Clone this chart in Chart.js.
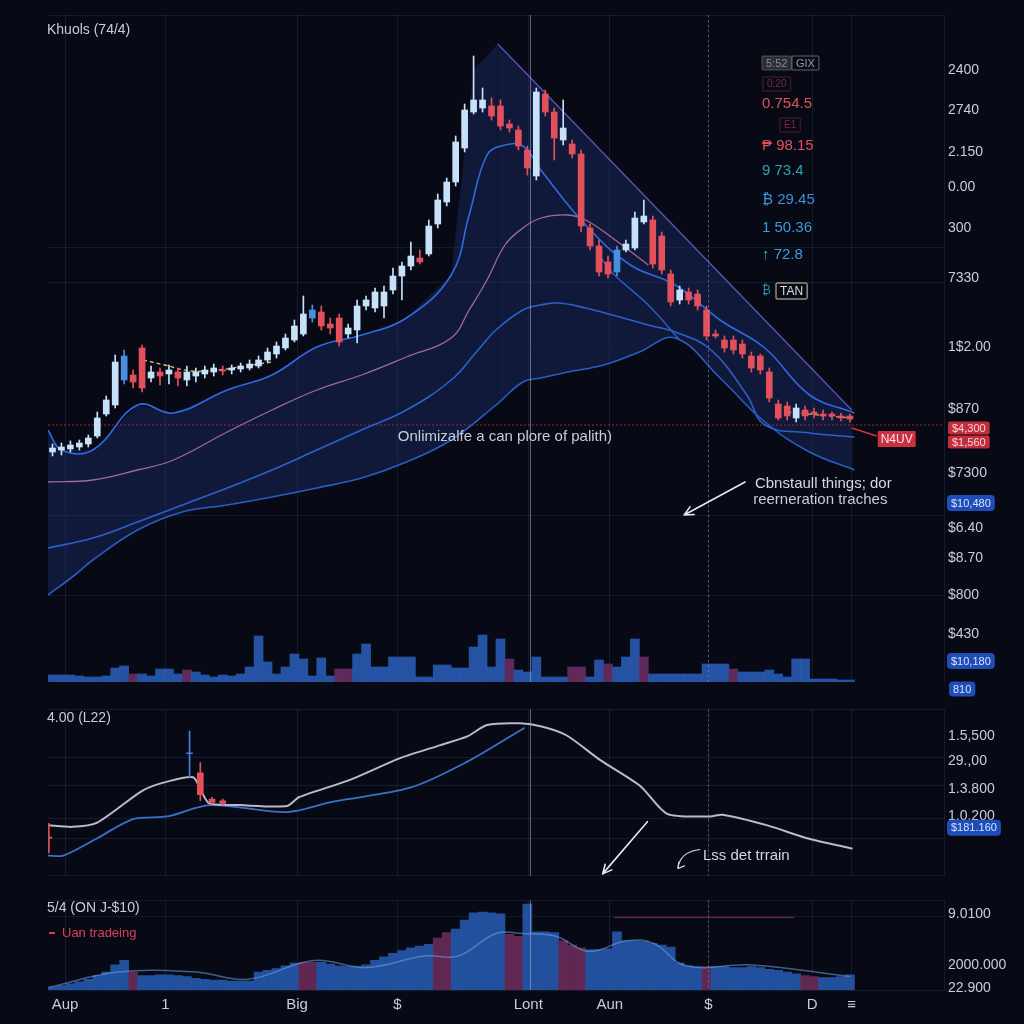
<!DOCTYPE html>
<html><head><meta charset="utf-8">
<script src="https://cdn.jsdelivr.net/npm/chart.js"></script>
<style>
html,body{margin:0;padding:0;background:#070a15;width:1024px;height:1024px;overflow:hidden;}
.panel{position:absolute;left:0;width:1024px;}
</style></head><body>
<div class="panel" style="top:0;height:697px"><canvas id="c1"></canvas></div>
<div class="panel" style="top:697px;height:191px"><canvas id="c2"></canvas></div>
<div class="panel" style="top:888px;height:136px"><canvas id="c3"></canvas></div>
<script>
// ---------- DATA ----------
const xTickPos = [1.9, 13.1, 27.8, 39.0, 53.6, 62.7, 73.7, 85.3, 89.7, 100];
const xTickLabels = ['Aup','1','Big','$','Lont','Aun','$','D','≡',''];

const mainTickValues = [612,572,530,495,454,404,335,273,209,154,124,87,48];
const mainTickLabels = ['2400','2740','2.150','0.00','300','7330','1$2.00','$870','$7300','$6.40','$8.70','$800','$430'];
const midTickValues = [160,132,99,68];
const midTickLabels = ['1.5,500','29.,00','1.3.800','1.0.200'];
const lowTickValues = [85,28,2];
const lowTickLabels = ['9.0100','2000.000','22.900'];

const candleOpen = [230,232,233,235,238,246,268,277,302,307, 334,304,310,308,310,302,306,308,310,312, 312,313,314,316,322,328,334,342,348,364, 370,358,364,348,352,376,374,376,392,406, 416,424,428,458,480,500,534,570,574,576, 576,558,552,532,506,588,570,542,538,528, 454,436,420,410,432,434,460,462,446,408, 382,390,388,372,348,342,342,338,326,326, 310,278,276,264,272,270,268,268,266,266];
const candleClose = [234,235,237,239,244,264,282,320,326,300, 294,310,306,312,304,310,310,312,314,311, 314,316,318,322,330,336,344,356,368,372, 356,354,340,354,376,382,390,390,406,416, 426,420,456,482,500,540,572,582,582,566, 556,554,536,514,590,570,544,554,528,456, 436,410,408,432,438,464,466,418,412,380, 392,382,376,346,346,334,332,328,314,312, 284,264,266,274,266,268,266,266,264,263];
const candleHigh = [238,239,241,242,247,270,286,327,332,312, 337,316,314,317,314,316,314,316,318,316, 317,319,322,326,334,340,348,362,386,377, 376,364,368,358,382,386,394,396,414,420, 440,432,462,488,504,546,578,626,594,584, 582,562,556,536,594,592,574,582,542,532, 458,442,426,436,442,470,482,466,450,412, 396,394,392,376,352,346,346,342,330,328, 314,282,280,278,276,274,272,270,269,268];
const candleLow = [226,227,230,232,235,244,266,274,298,294, 290,300,297,298,296,296,300,304,306,307, 308,310,312,314,320,324,332,340,346,360, 352,348,336,344,339,372,370,364,388,382, 412,418,426,454,476,496,530,568,570,562, 552,550,532,507,502,566,522,537,524,450, 432,406,404,406,430,432,458,414,408,376, 378,378,372,342,344,330,328,324,310,308, 280,262,262,260,262,264,262,262,261,260];
const blueCandles = [8, 29, 63];

const mainVolume = [7,7,7,6,5,5,6,14,16,8, 8,6,13,13,8,12,10,7,5,7, 6,8,15,46,20,8,15,28,23,6, 24,6,13,13,28,38,15,15,25,25, 25,5,5,17,17,14,14,35,47,15, 43,23,12,10,25,5,5,5,15,15, 5,22,18,15,25,43,25,8,8,8, 8,8,8,18,18,18,13,10,10,10, 12,8,5,23,23,3,3,3,2,2];
const mainVolSell = [9,15,32,33,51,58,59,62,66,76];

const bandAX = [0,1.5,5,10,14,20,25,30,35,40,45,47,49,51,53,55,60,65,70,75,80,85,90];
const bandA  = [252,232,232,277,269,292,307,335,347,364,407,467,527,537,536,512,457,417,397,362,334,287,269];
const bandBX = [0,5,10,14,20,25,30,35,40,45,47,49,51,53,55,58,60,63,67];
const bandB  = [200,202,212,222,250,272,292,307,325,344,372,402,437,454,464,467,462,444,417];
const bandCX = [0,5,10,15,20,25,30,35,40,45,48,50,53,55,57,60,63,67,70,74,78,80,85,90];
const bandC  = [134,144,160,177,194,212,232,252,272,302,332,352,372,377,379,374,367,357,350,332,287,257,249,245];
const bandDX = [0,3,5,10,15,20,25,30,35,40,45,50,53,55,58,62,66,70,75,80,85,90];
const bandD  = [87,107,122,152,170,177,185,194,204,220,242,277,300,304,310,317,330,344,304,260,230,212];
const bandEX = [61.5,63,67,70.5];
const bandE  = [427,409,377,342];
const envelopeX = [0,1.5,5,10,14,20,25,30,35,40,45,47.5,50.2,89.7];
const envelope  = [252,232,232,277,269,292,307,335,347,364,407,612,638,272];
const maFastX = [10.6,13,16,19,22,25];
const maFast  = [322,317,311,312,316,320];
const maTailX = [82.5,86,89.7];
const maTail  = [270,267,264];
const priceLevel = 257;

const midWhiteX = [0,2.7,5.5,10.6,13.3,16.2,17.2,18,21.4,26.7,28,33.7,39.3,43.8,46.8,49,52.7,55.2,57.9,61.6,66.1,69.1,73.9,75.3,80.2,84.7,89.8];
const midWhite  = [58,56,61,98,108,113,95,83,81,80,90,110,135,150,160,173,175,171,161,133,103,71,68,70,58,43,31];
const midBlueX = [0,1.7,5.5,9.5,13.3,18.1,26.7,31.8,40.4,46.8,53.2];
const midBlue  = [23,23,43,65,68,81,73,85,101,131,170];
const midCandleX = [0.1,15.8,17.0,18.3,19.5];
const midOpen  = [43,140,118,88,86];
const midClose = [43,140,93,84,83];
const midHigh  = [60,166,130,90,88];
const midLow   = [26,113,86,82,81];

const lowerVolume = [3,5,7,9,12,16,20,28,33,20, 16,16,17,17,16,15,13,12,11,11, 10,10,10,20,22,24,27,30,31,31, 31,29,27,26,26,28,33,37,41,44, 47,49,51,58,64,68,78,86,87,86, 85,62,60,96,65,65,64,55,50,47, 45,45,46,65,55,55,54,52,50,48, 30,27,26,26,26,26,25,25,26,25, 23,22,20,18,16,15,14,14,15,17];
const lowerSell = [9,28,29,43,44,51,52,57,58,59,73,84,85];
const lowerAvgX = [0.1,7.8,16.5,22.3,29.7,35.5,42,45.8,50,53,56.7,60.3,64.6,67.6,71.2,78.6,89.5];
const lowerAvg  = [3,20,20,12,33,25,38,38,63,63,60,43,55,52,27,28,15];
const lowerLevelX = [63.2,83.3];
const lowerLevel = [81,81];

const crosshairX = [53.8, 73.7];

// ---------- HELPERS ----------
const FONT = '"Liberation Sans", Arial, Helvetica, sans-serif';
const GRID = 'rgba(70,92,140,0.22)';
const TXT = '#c9cdd8';
const pts = (xs, ys) => xs.map((x,i)=>({x, y:ys[i]}));
const candleX = candleOpen.map((_,i)=>i+0.5);
const isUp = i => candleClose[i] >= candleOpen[i];
const candleColor = i => isUp(i) ? (blueCandles.includes(i) ? '#4a8ee0' : '#c6e1f8') : '#e2505c';

function xAxis(show){
  return { type:'linear', min:0, max:100, position:'bottom', offset:false,
    afterBuildTicks: s => { s.ticks = xTickPos.map(v=>({value:v})); },
    ticks:{ display:show, autoSkip:false, maxRotation:0, padding:6, color:TXT, font:{family:FONT,size:15}, callback:(v,i)=>xTickLabels[i] },
    grid:{ color:GRID, drawTicks:false, offset:false }, border:{display:false},
    afterFit: s => { s.height = show ? 34 : 0; } };
}
function yRight(min,max,vals,labels){
  return { type:'linear', position:'right', min, max,
    afterBuildTicks: s => { s.ticks = vals.map(v=>({value:v})); },
    ticks:{ autoSkip:false, padding:4, color:TXT, font:{family:FONT,size:14}, crossAlign:'near', callback:(v,i)=>labels[i] },
    grid:{ display:false, drawTicks:false }, border:{display:false},
    afterFit: s => { s.width = 80; } };
}
function yGrid(min,max,vals){
  return { type:'linear', position:'left', min, max,
    afterBuildTicks: s => { s.ticks = vals.map(v=>({value:v})); },
    ticks:{ display:false }, grid:{ color:GRID, drawTicks:false }, border:{display:false},
    afterFit: s => { s.width = 0; } };
}
function txt(ctx, s, x, y, o={}){
  ctx.save();
  ctx.font = `${o.weight||'normal'} ${o.size||14}px ${FONT}`;
  ctx.fillStyle = o.color||TXT; ctx.textAlign = o.align||'left'; ctx.textBaseline='middle';
  ctx.fillText(s,x,y); ctx.restore();
}
function box(ctx, s, x, y, o={}){
  ctx.save();
  ctx.font = `${o.weight||'normal'} ${o.size||11}px ${FONT}`;
  const w = ctx.measureText(s).width + (o.pad||8), h = o.h||14;
  ctx.beginPath(); ctx.roundRect(x, y-h/2, w, h, o.r==null?3:o.r);
  if (o.bg){ ctx.fillStyle=o.bg; ctx.fill(); }
  if (o.border){ ctx.strokeStyle=o.border; ctx.lineWidth=1; ctx.stroke(); }
  ctx.fillStyle=o.color||'#fff'; ctx.textAlign='center'; ctx.textBaseline='middle';
  ctx.fillText(s, x+w/2, y+0.5); ctx.restore();
}
function arrow(ctx,x1,y1,x2,y2,color,w){
  ctx.save(); ctx.strokeStyle=color; ctx.lineWidth=w; ctx.lineCap='round';
  ctx.beginPath(); ctx.moveTo(x1,y1); ctx.lineTo(x2,y2);
  const a=Math.atan2(y2-y1,x2-x1), L=10;
  ctx.moveTo(x2,y2); ctx.lineTo(x2-L*Math.cos(a-0.45), y2-L*Math.sin(a-0.45));
  ctx.moveTo(x2,y2); ctx.lineTo(x2-L*Math.cos(a+0.45), y2-L*Math.sin(a+0.45));
  ctx.stroke(); ctx.restore();
}
const crossPlugin = { id:'cross', afterDatasetsDraw(chart){
  const {ctx, chartArea:a, scales:{x}} = chart;
  crosshairX.forEach((v,k)=>{
    const px = Math.round(x.getPixelForValue(v))+0.5;
    ctx.save(); ctx.strokeStyle = k===0 ? 'rgba(165,175,210,0.55)' : 'rgba(165,175,210,0.45)';
    ctx.setLineDash(k===0?[]:[2,3]); ctx.lineWidth=1;
    ctx.beginPath(); ctx.moveTo(px,a.top); ctx.lineTo(px,a.bottom); ctx.stroke(); ctx.restore();
  });
}};
const base = (padding, scales) => ({
  responsive:true, maintainAspectRatio:false, animation:false,
  layout:{padding}, scales,
  plugins:{legend:{display:false}, tooltip:{enabled:false}}
});

// ---------- CHART 1 (main) ----------
const mainNotesPlugin = { id:'mainNotes', afterDraw(chart){
  const {ctx, scales:{x,y}} = chart;
  const X = v=>x.getPixelForValue(v), Y = v=>y.getPixelForValue(v);
  txt(ctx,'Khuols (74/4)',47,30,{size:14});
  box(ctx,'5:52',762,63,{bg:'rgba(90,90,95,0.45)',border:'rgba(110,110,115,0.6)',color:'#8a8a90',size:11,r:1});
  box(ctx,'GIX',792,63,{border:'rgba(140,140,145,0.7)',color:'#9a9aa0',size:11,r:1});
  box(ctx,'0:20',763,84,{border:'rgba(120,35,50,0.7)',color:'#7a2a38',size:10,r:1});
  txt(ctx,'0.754.5',762,104,{color:'#e0505a',size:15});
  box(ctx,'E1',780,125,{border:'rgba(120,35,50,0.7)',color:'#7a2a38',size:10,r:1});
  txt(ctx,'₱ 98.15',762,146,{color:'#e0505a',size:15});
  txt(ctx,'9 73.4',762,171,{color:'#2ba3b5',size:15});
  txt(ctx,'₿ 29.45',762,200,{color:'#3a90d6',size:15});
  txt(ctx,'1 50.36',762,228,{color:'#3a9ad8',size:15});
  txt(ctx,'↑ 72.8',762,255,{color:'#3aa0d8',size:15});
  txt(ctx,'₿',762,291,{color:'#2b8fa0',size:12});
  box(ctx,'TAN',776,291,{border:'#d8cfa8',color:'#dcdcdc',size:12,h:16,r:1});
  txt(ctx,'Onlimizalfe a can plore of palith)',X(51.0),Y(245),{align:'center',size:15,color:'#c9ccd6'});
  txt(ctx,'Cbnstaull things; dor',X(78.9),Y(198),{size:15,color:'#d6d9e2'});
  txt(ctx,'reerneration traches',X(78.7),Y(182),{size:15,color:'#c9ccd6'});
  arrow(ctx,X(77.8),Y(200),X(71.0),Y(167),'#e6e8ee',1.6);
  ctx.save(); ctx.strokeStyle='#d0303f'; ctx.lineWidth=1.5;
  ctx.beginPath(); ctx.moveTo(X(89.7),Y(254)); ctx.lineTo(X(92.5),Y(246)); ctx.stroke(); ctx.restore();
  box(ctx,'N4UV',X(92.6),Y(243),{bg:'#cc2f3e',color:'#f4e6e8',size:12,h:16,r:1,pad:6});
  box(ctx,'$4,300',948,Y(254),{bg:'#c42d3b',color:'#f3d9dc',size:11,h:13,r:2});
  box(ctx,'$1,560',948,Y(240),{bg:'#c42d3b',color:'#f3d9dc',size:11,h:13,r:2});
  box(ctx,'$10,480',947,Y(179),{bg:'#1f4db8',color:'#d6e2ff',size:11,h:16,r:4});
  box(ctx,'$10,180',947,Y(21),{bg:'#1f4db8',color:'#d6e2ff',size:11,h:16,r:4});
  box(ctx,'810',949,Y(-7),{bg:'#1f4db8',color:'#d6e2ff',size:11,h:15,r:4});
}};

new Chart(document.getElementById('c1'), {
  data:{ datasets:[
    {type:'bar', data:candleX.map((x,i)=>({x,y:[candleOpen[i],candleClose[i]]})), backgroundColor:candleX.map((_,i)=>candleColor(i)), barThickness:6, minBarLength:1, grouped:false, order:0},
    {type:'bar', data:candleX.map((x,i)=>({x,y:[candleLow[i],candleHigh[i]]})), backgroundColor:candleX.map((_,i)=>candleColor(i)), barThickness:1, grouped:false, order:1},
    {type:'line', data:pts(bandAX,bandA), borderColor:'#2f6ae0', borderWidth:1.6, pointRadius:0, tension:0.4, fill:false, order:3},
    {type:'line', data:pts(bandBX,bandB), borderColor:'#a4689a', borderWidth:1.3, pointRadius:0, tension:0.4, fill:false, order:4},
    {type:'line', data:pts(bandCX,bandC), borderColor:'#2c60cc', borderWidth:1.6, pointRadius:0, tension:0.4, fill:false, order:5},
    {type:'line', data:pts(bandDX,bandD), borderColor:'#2a5cc4', borderWidth:1.6, pointRadius:0, tension:0.4, fill:false, order:6},
    {type:'line', data:pts(bandEX,bandE), borderColor:'#2a5cc4', borderWidth:1.5, pointRadius:0, tension:0.4, fill:false, order:6},
    {type:'line', data:pts(maFastX,maFast), borderColor:'#e3c066', borderWidth:1.3, borderDash:[4,3], pointRadius:0, tension:0.4, fill:false, order:2},
    {type:'line', data:pts(maTailX,maTail), borderColor:'#d49a5a', borderWidth:1.3, borderDash:[4,3], pointRadius:0, tension:0.4, fill:false, order:2},
    {type:'line', data:[{x:0,y:priceLevel},{x:100,y:priceLevel}], borderColor:'rgba(200,50,62,0.75)', borderWidth:1, borderDash:[2,2], pointRadius:0, fill:false, order:7},
    {type:'line', data:pts(envelopeX,envelope), pointRadius:0, tension:0, borderWidth:1.3,
      segment:{ borderColor: c => c.p0.parsed.x >= 50 ? 'rgba(110,95,205,0.85)' : 'rgba(0,0,0,0)' },
      fill:{target:5}, backgroundColor:'rgba(28,48,108,0.42)', order:10},
    {type:'bar', yAxisID:'yVol', data:candleX.map((x,i)=>({x,y:mainVolume[i]})), backgroundColor:candleX.map((_,i)=> mainVolSell.includes(i)?'rgba(105,45,98,0.9)':'rgba(42,92,182,0.88)'), barThickness:9, grouped:false, order:12}
  ]},
  options: base({top:15,left:48,right:0,bottom:15}, {
    x: xAxis(false),
    y: yRight(0,667,mainTickValues,mainTickLabels),
    yG: yGrid(0,667,[667,435,400,167,87]),
    yVol: {type:'linear', display:false, min:0, max:667}
  }),
  plugins:[crossPlugin, mainNotesPlugin]
});

// ---------- CHART 2 (middle) ----------
const midNotesPlugin = { id:'midNotes', afterDraw(chart){
  const {ctx, scales:{x,y}} = chart;
  const X = v=>x.getPixelForValue(v), Y = v=>y.getPixelForValue(v);
  txt(ctx,'4.00 (L22)',47,21,{size:14});
  txt(ctx,'Lss det trrain',X(73.1),Y(23),{size:15,color:'#d3d6de'});
  arrow(ctx,X(66.9),Y(62),X(61.9),Y(2),'#e6e8ee',1.6);
  ctx.save(); ctx.strokeStyle='#d0d3dc'; ctx.lineWidth=1.2;
  const x1=X(72.8), y1=Y(30), x2=X(70.3), y2=Y(8);
  ctx.beginPath(); ctx.moveTo(x1,y1); ctx.quadraticCurveTo(x2+2,y1+2,x2,y2); ctx.stroke();
  ctx.beginPath(); ctx.moveTo(x2,y2); ctx.lineTo(x2+1,y2-7); ctx.moveTo(x2,y2); ctx.lineTo(x2+7,y2-3); ctx.stroke();
  ctx.restore();
  box(ctx,'$181.160',947,Y(55),{bg:'#1f4db8',color:'#d6e2ff',size:11,h:16,r:4});
}};
const midColor = i => i===1 ? '#4a7fe0' : '#e2505c';
new Chart(document.getElementById('c2'), {
  data:{ datasets:[
    {type:'bar', data:midCandleX.map((x,i)=>({x,y:[midOpen[i],midClose[i]]})), backgroundColor:midCandleX.map((_,i)=>midColor(i)), barThickness:6, minBarLength:1, grouped:false, order:0},
    {type:'bar', data:midCandleX.map((x,i)=>({x,y:[midLow[i],midHigh[i]]})), backgroundColor:midCandleX.map((_,i)=>midColor(i)), barThickness:1, grouped:false, order:1},
    {type:'line', data:pts(midWhiteX,midWhite), borderColor:'rgba(205,205,225,0.9)', borderWidth:2, pointRadius:0, tension:0.25, fill:false, order:2},
    {type:'line', data:pts(midBlueX,midBlue), borderColor:'#3a70c8', borderWidth:1.8, pointRadius:0, tension:0.3, fill:false, order:3}
  ]},
  options: base({top:0,left:48,right:0,bottom:0}, {
    x: xAxis(false),
    y: yRight(0,191,midTickValues,midTickLabels),
    yG: yGrid(0,191,[191,136,103,66,43,0])
  }),
  plugins:[crossPlugin, midNotesPlugin]
});

// ---------- CHART 3 (bottom volume) ----------
const lowNotesPlugin = { id:'lowNotes', afterDraw(chart){
  const {ctx} = chart;
  txt(ctx,'5/4 (ON J-$10)',47,20,{size:14});
  ctx.save(); ctx.strokeStyle='#d8405a'; ctx.lineWidth=2; ctx.beginPath(); ctx.moveTo(49,45); ctx.lineTo(55,45); ctx.stroke(); ctx.restore();
  txt(ctx,'Uan tradeing',62,45,{size:13,color:'#d8405a'});
}};
new Chart(document.getElementById('c3'), {
  data:{ datasets:[
    {type:'line', data:pts(lowerAvgX,lowerAvg), borderColor:'rgba(110,165,225,0.55)', borderWidth:1.5, pointRadius:0, tension:0.4, fill:false, order:0},
    {type:'line', data:pts(lowerLevelX,lowerLevel), borderColor:'rgba(150,45,75,0.8)', borderWidth:1, pointRadius:0, fill:false, order:1},
    {type:'bar', data:candleX.map((x,i)=>({x,y:lowerVolume[i]})), backgroundColor:candleX.map((_,i)=> lowerSell.includes(i)?'rgba(105,42,88,0.9)':'rgba(38,88,172,0.9)'), barThickness:9, grouped:false, order:2}
  ]},
  options: base({top:2,left:48,right:0,bottom:0}, {
    x: xAxis(true),
    y: yRight(0,100,lowTickValues,lowTickLabels),
    yG: yGrid(0,100,[100,82,0])
  }),
  plugins:[crossPlugin, lowNotesPlugin]
});
</script>
</body></html>
